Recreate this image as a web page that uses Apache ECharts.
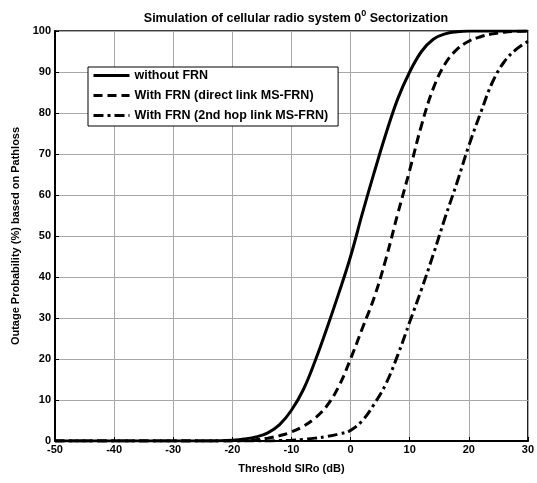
<!DOCTYPE html>
<html><head><meta charset="utf-8">
<script src="https://cdn.jsdelivr.net/npm/echarts@6/dist/echarts.min.js"></script>
<style>html,body{margin:0;padding:0;background:#fff}#c{width:537px;height:483px}</style>
</head><body><div id="c"></div>
<script>
const xValues = [-50,-40,-30,-24,-22,-20,-18,-16,-14,-12,-10,-8,-6,-4,-2,0,2,4,6,8,10,12,14,16,18,20,22,24,26,28,30];
const withoutFRN = [0,0,0,0,0.05,0.2,0.5,1.0,2.0,4.0,7.5,12.5,19.5,27.5,36,45,55.5,65.5,75,83.5,90,95,98,99.3,99.8,100,100,100,100,100,100];
const directLink = [0,0,0,0,0,0,0.1,0.3,0.7,1.3,2.2,3.6,5.6,8.6,13.3,20,27.5,35,44.5,55.5,66,77,86,92,95.5,97.5,98.6,99.3,99.7,99.9,100];
const secondHop = [0,0,0,0,0,0,0,0,0,0.1,0.2,0.4,0.7,1.1,1.7,2.6,5,9,14,21,29,37,45.5,54.5,63,72,80,87.5,92.5,95.5,97.5];
const seriesNames = ['without FRN','With FRN (direct link MS-FRN)','With FRN (2nd hop link MS-FRN)'];
const xTicks = {min:-50,max:30,step:10};
const yTicks = {min:0,max:100,step:10};

const pair = (ys) => xValues.map((x,i)=>[x,ys[i]]);
const font = 'Liberation Sans, Arial, sans-serif';
const chart = echarts.init(document.getElementById('c'));
const lineTypes = ['solid',[9,5],[10,4,3,4]];
const datasets = [withoutFRN,directLink,secondHop];
chart.setOption({
  backgroundColor:'#fff',
  animation:false,
  title:{
    text:'{a|Simulation of cellular radio system 0}{s|0}{a| Sectorization}',
    left:291, top:4, textAlign:'center',
    textStyle:{rich:{
      a:{fontFamily:font,fontWeight:'bold',fontSize:12.5,color:'#000',verticalAlign:'bottom'},
      s:{fontFamily:font,fontWeight:'bold',fontSize:9,color:'#000',verticalAlign:'top',padding:[0,0,7,0]}
    }}
  },
  legend:{
    orient:'vertical', left:88, top:67,
    backgroundColor:'#fff', borderColor:'#000', borderWidth:1,
    padding:[2,10,4,4], itemGap:7, itemWidth:36, itemHeight:13,
    itemStyle:{opacity:0},
    lineStyle:{width:3},
    textStyle:{fontFamily:font,fontWeight:'bold',fontSize:12.5,color:'#000'},
    data:seriesNames
  },
  grid:{left:55,right:6,top:31,bottom:42,show:true,borderColor:'#000',borderWidth:1.5},
  xAxis:{
    type:'value',min:xTicks.min,max:xTicks.max,interval:xTicks.step,
    name:'Threshold SIRo (dB)',nameLocation:'middle',nameGap:22,
    nameTextStyle:{fontFamily:font,fontWeight:'bold',fontSize:11,color:'#000'},
    axisLine:{onZero:false,lineStyle:{color:'#000',width:2}},
    axisTick:{inside:true,length:4,lineStyle:{color:'#000'}},
    axisLabel:{fontFamily:font,fontWeight:'bold',fontSize:11,color:'#000',margin:3},
    splitLine:{show:true,lineStyle:{color:'#a8a8a8',width:1}}
  },
  yAxis:{
    type:'value',min:yTicks.min,max:yTicks.max,interval:yTicks.step,
    name:'Outage Probability (%) based on Pathloss',nameLocation:'middle',nameGap:34,
    nameTextStyle:{fontFamily:font,fontWeight:'bold',fontSize:11,color:'#000'},
    axisLine:{onZero:false,lineStyle:{color:'#000',width:2}},
    axisTick:{inside:true,length:4,lineStyle:{color:'#000'}},
    axisLabel:{fontFamily:font,fontWeight:'bold',fontSize:11,color:'#000',margin:4},
    splitLine:{show:true,lineStyle:{color:'#a8a8a8',width:1}}
  },
  series:datasets.map((d,i)=>({
    name:seriesNames[i],type:'line',data:pair(d),smooth:0.4,showSymbol:false,symbol:'none',
    lineStyle:{color:'#000',width:3,type:lineTypes[i]},itemStyle:{color:'#000'}
  }))
});
</script></body></html>
